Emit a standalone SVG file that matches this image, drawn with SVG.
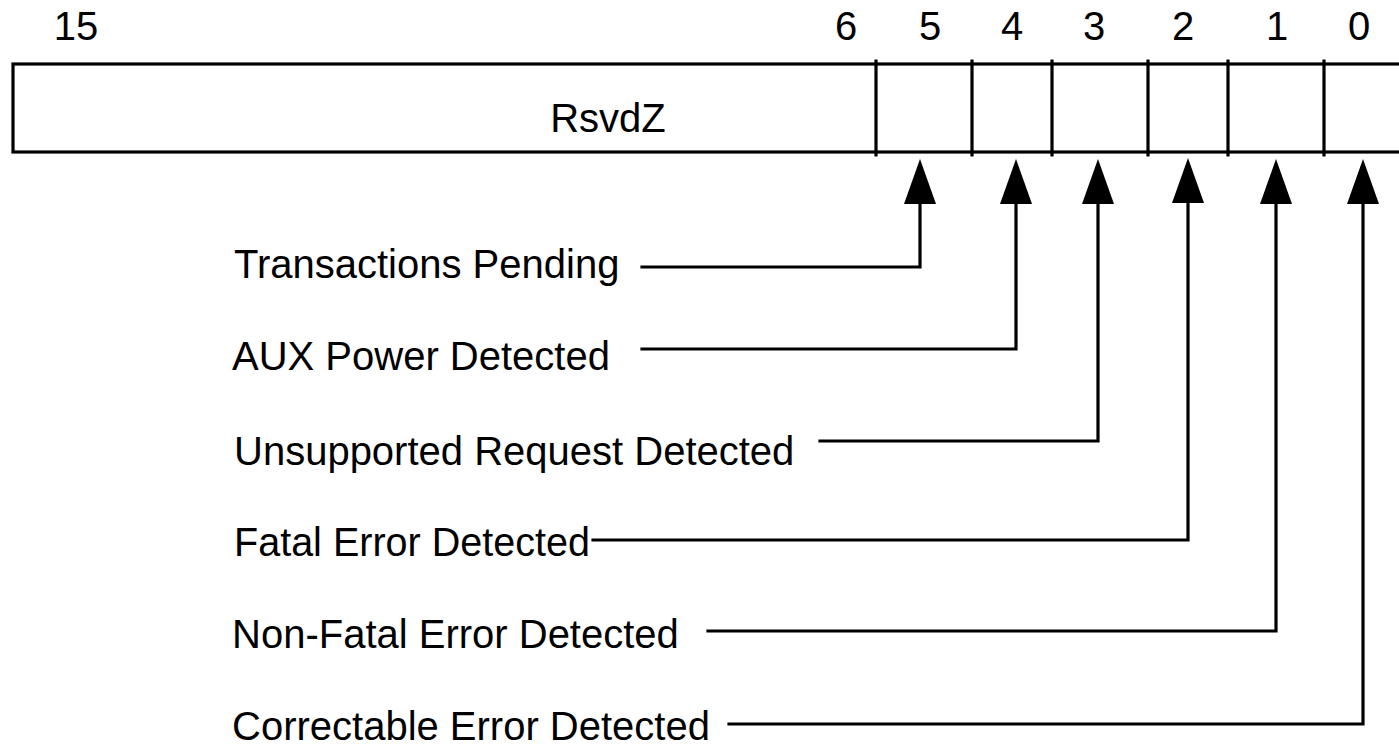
<svg xmlns="http://www.w3.org/2000/svg" width="1399" height="747" viewBox="0 0 1399 747">
<style>
text{font-family:"Liberation Sans",Arial,sans-serif;font-size:40px;fill:#000}
.n{text-anchor:middle}
.ln{fill:none;stroke:#000;stroke-width:3.2;stroke-linejoin:miter;stroke-linecap:square}
</style>
<defs>
<polygon id="ah" points="0,0 16,45 -16,45" fill="#000"/>
</defs>
<g id="bitnumbers">
<text class="n" x="76" y="40">15</text>
<text class="n" x="846" y="40">6</text>
<text class="n" x="930" y="40">5</text>
<text class="n" x="1012" y="40">4</text>
<text class="n" x="1094" y="40">3</text>
<text class="n" x="1183" y="40">2</text>
<text class="n" x="1277" y="40">1</text>
<text class="n" x="1359" y="40">0</text>
</g>
<g id="register">
<rect class="ln" x="13" y="64" width="1400" height="88"/>
<path class="ln" d="M876 61V155M972 61V155M1052 61V155M1148 61V155M1228 61V155M1324 61V155"/>
<text class="n" x="608" y="132">RsvdZ</text>
</g>
<g id="labels">
<text x="234" y="278">Transactions Pending</text>
<text x="232" y="370">AUX Power Detected</text>
<text x="234" y="465">Unsupported Request Detected</text>
<text x="234" y="556" textLength="356" lengthAdjust="spacingAndGlyphs">Fatal Error Detected</text>
<text x="232" y="648">Non-Fatal Error Detected</text>
<text x="232" y="740">Correctable Error Detected</text>
</g>
<g id="connectors">
<path class="ln" d="M593 540H1188V200"/>
<path class="ln" d="M642 267H920V200"/>
<path class="ln" d="M642 349H1016V200"/>
<path class="ln" d="M820 441H1098V200"/>
<path class="ln" d="M708 631H1276V200"/>
<path class="ln" d="M729 724H1363V200"/>
<use href="#ah" x="920" y="159"/>
<use href="#ah" x="1016" y="159"/>
<use href="#ah" x="1098" y="159"/>
<use href="#ah" x="1188" y="158"/>
<use href="#ah" x="1276" y="159"/>
<use href="#ah" x="1363" y="159"/>
</g>
</svg>
